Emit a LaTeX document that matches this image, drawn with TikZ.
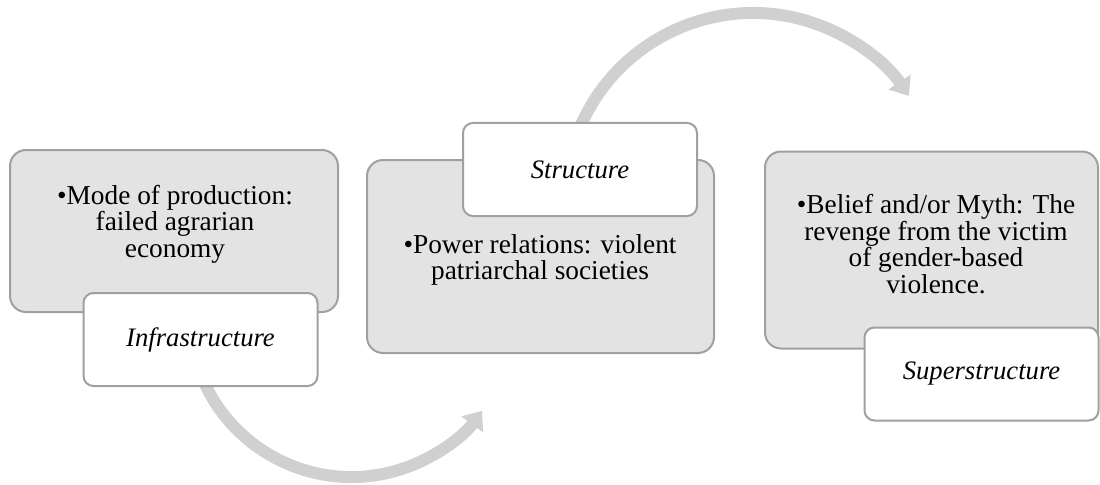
\documentclass[tikz,border=0pt]{standalone}
\usepackage{fontspec}
\setmainfont{Liberation Serif}
\usetikzlibrary{arrows.meta}
\definecolor{boxfill}{RGB}{227,227,227}
\definecolor{boxline}{RGB}{160,160,160}
\definecolor{arrowgray}{RGB}{208,208,208}
\begin{document}
\begin{tikzpicture}[x=0.75pt,y=-0.75pt,
  graybox/.style={draw=boxline,line width=1.5pt,fill=boxfill,rounded corners=12pt,inner sep=0pt},
  labelbox/.style={draw=boxline,line width=1.5pt,fill=white,rounded corners=7.5pt,inner sep=0pt,
     minimum width=175.5pt,minimum height=69.75pt,font=\fontsize{20}{20}\selectfont\itshape},
  bodytext/.style={align=center,inner sep=0pt,font=\fontsize{20.5}{20}\selectfont},
  flow/.style={draw=arrowgray,line width=9pt,-{Triangle[length=12.5pt,width=19.5pt]}}]
\useasboundingbox (0,0) rectangle (1100,485);
% arcs (behind boxes)
\coordinate (c1) at (351.5,315);
\coordinate (c2) at (753,201);
\draw[flow] (c1) ++(160:162) arc[start angle=160,end angle=36.3,radius=162];
\draw[flow] (c2) ++(200:188) arc[start angle=200,end angle=326,radius=188];
% box 1
\node[graybox,minimum width=246pt,minimum height=121.5pt] (g1) at (174,231) {};
\node[bodytext] (t1) at (175,224) {•Mode of production:\\failed agrarian\\economy};
\node[labelbox] (w1) at (200.5,339.5) {Infrastructure};
% box 2
\node[graybox,minimum width=260.25pt,minimum height=144.75pt] (g2) at (540.5,256.5) {};
\node[labelbox] (w2) at (580,169.5) {Structure};
\node[bodytext] (t2) at (540,260) {•Power relations: violent\\patriarchal societies};
% box 3
\node[graybox,minimum width=249.75pt,minimum height=147.75pt] (g3) at (931.5,250) {};
\node[bodytext] (t3) at (936,244) {•Belief and/or Myth: The\\revenge from the victim\\of gender-based\\violence.};
\node[labelbox] (w3) at (981.5,374) {Superstructure};
\end{tikzpicture}
\end{document}
